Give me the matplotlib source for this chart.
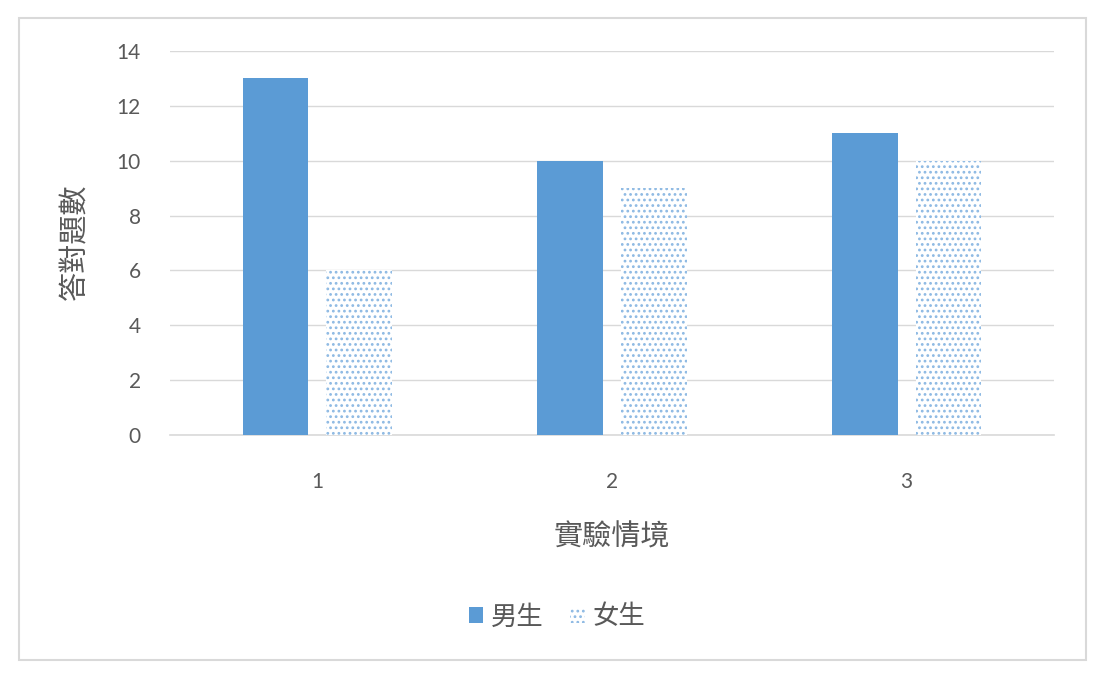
import matplotlib
matplotlib.use("Agg")
import matplotlib.pyplot as plt
import numpy as np
from matplotlib.patches import Rectangle, Patch

categories = ["1", "2", "3"]
male = [13, 10, 11]
female = [6, 9, 10]
series_names = ["男生", "女生"]
y_ticks = [0, 2, 4, 6, 8, 10, 12, 14]
xlabel = "實驗情境"
ylabel = "答對題數"

plt.rcParams['hatch.linewidth'] = 1.2
cjk = ['Noto Sans CJK TC', 'DejaVu Sans']
num_font = ['Lato', 'DejaVu Sans']
grey = '#595959'
dot_col = '#8DB9E3'

fig = plt.figure(figsize=(11.05, 6.78), dpi=100)
fig.patches.append(Rectangle((19/1105, 1-660/678), (1086-19)/1105, (660-18)/678,
                             transform=fig.transFigure, fill=False,
                             edgecolor='#d9d9d9', linewidth=1.5))
ax = fig.add_axes([170/1105, 1-435/678, (1054-170)/1105, (435-51)/678])

x = np.arange(1, len(categories)+1)
w = 0.222
off = 0.142
ax.bar(x - off, male, width=w, color='#5B9BD5', edgecolor='#5B9BD5', linewidth=0, zorder=3)
ax.bar(x + off, female, width=w, color='white', edgecolor=dot_col, hatch='...',
       linewidth=0, zorder=3)

ax.set_xlim(0.5, 3.5)
ax.set_ylim(0, 14)
ax.set_yticks(y_ticks)
ax.set_xticks(x)
ax.set_xticklabels(categories)
for s in ['top', 'right', 'left']:
    ax.spines[s].set_visible(False)
ax.spines['bottom'].set_color('#d9d9d9')
ax.spines['bottom'].set_linewidth(1.2)
ax.yaxis.grid(True, color='#d9d9d9', linewidth=1.0, zorder=0)
ax.set_axisbelow(True)
ax.tick_params(axis='both', length=0, colors=grey, labelsize=15)
ax.tick_params(axis='x', pad=27)
ax.tick_params(axis='y', pad=21)
for lab in ax.get_xticklabels() + ax.get_yticklabels():
    lab.set_family(num_font)

fig.text(612/1105, 1-537/678, xlabel, ha='center', va='center', fontsize=21,
         color=grey, family=cjk)
fig.text(75/1105, 1-242/678, ylabel, ha='center', va='center', fontsize=21,
         color=grey, family=cjk, rotation=90)

handles = [Patch(facecolor='#5B9BD5', edgecolor='#5B9BD5', linewidth=0),
           Patch(facecolor='white', edgecolor=dot_col, hatch='...', linewidth=0)]
leg = fig.legend(handles, series_names, loc='center', bbox_to_anchor=(557/1105, 1-617/678),
                 ncol=2, frameon=False, handlelength=0.55, handleheight=0.55,
                 handletextpad=0.3, columnspacing=1.0,
                 prop={'family': cjk, 'size': 19})
for t in leg.get_texts():
    t.set_color(grey)

fig.savefig('out.png', dpi=100)
